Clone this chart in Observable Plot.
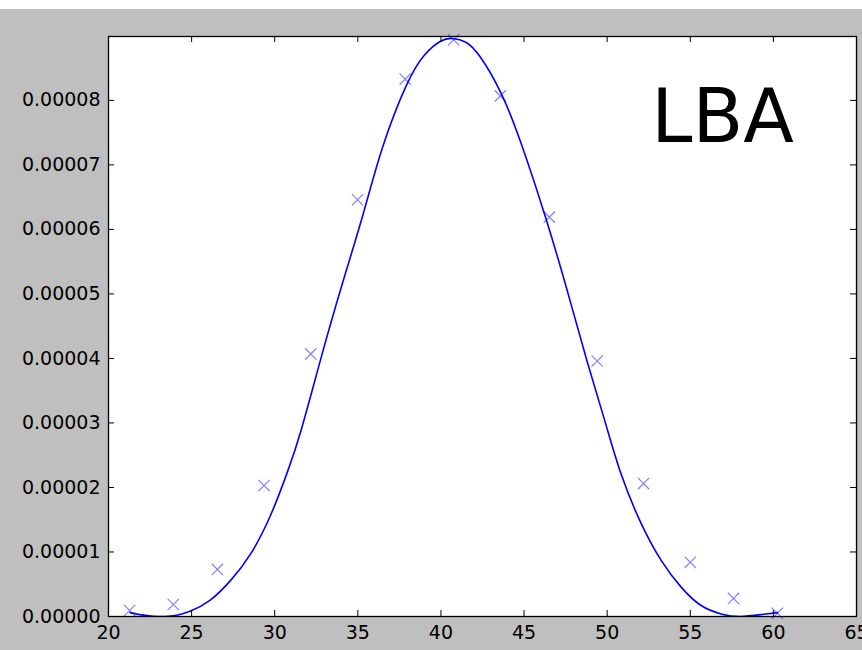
<!DOCTYPE html>
<html>
<head>
<meta charset="utf-8">
<script src="https://cdn.jsdelivr.net/npm/d3@7"></script>
<script src="https://cdn.jsdelivr.net/npm/@observablehq/plot@0.6"></script>
<style>
  html, body { margin: 0; padding: 0; background: #ffffff; }
  #chart svg { display: block; }
</style>
</head>
<body>
<div id="chart"></div>
<script>
// ---- data ----
const xTicks = [20, 25, 30, 35, 40, 45, 50, 55, 60, 65];
const yTicks = [0, 0.00001, 0.00002, 0.00003, 0.00004, 0.00005, 0.00006, 0.00007, 0.00008];

// measured samples (x markers)
const sampleX = [21.27, 23.9, 26.55, 29.36, 32.17, 34.98, 37.85, 40.76, 43.57, 46.52, 49.4, 52.19, 55.0, 57.6, 60.24];
const sampleY = [0.00000093, 0.00000186, 0.0000073, 0.0000203, 0.0000407, 0.0000646, 0.0000833, 0.0000894, 0.0000807, 0.0000619, 0.0000396, 0.0000206, 0.0000084, 0.0000028, 0.0000005];

// fitted curve
const curveX = [21.3, 22.0, 22.7, 23.4, 24.1, 24.9, 26.1, 27.35, 28.55, 29.75, 30.75, 31.6, 32.8, 34.0, 35.3, 36.5, 37.9, 39.0, 40.0, 40.7,
                41.5, 42.4, 43.6, 44.8, 46.3, 47.6, 48.8, 49.85, 50.85, 52.05, 53.25, 54.45, 55.65, 56.85, 58.0, 59.3, 60.25];
const curveY = [0.0000006, 0.00000025, 0.00000005, 0.0, 0.0000002, 0.0000008, 0.0000025, 0.0000056, 0.0000097, 0.0000157, 0.0000223, 0.000029, 0.0000402, 0.000051, 0.0000622, 0.0000728, 0.0000822, 0.000087, 0.0000892, 0.0000896,
                0.000089, 0.0000866, 0.0000812, 0.0000735, 0.0000618, 0.0000505, 0.0000395, 0.0000304, 0.000022, 0.0000144, 0.0000087, 0.00000455, 0.0000017, 0.0000004, 0.0, 0.0000003, 0.0000006];

const labelText = ["LBA"];
const labelPos = {x: 52.65, y: 0.0000772};

// ---- build ----
const W = 862, H = 650;
const mL = 108, mR = 6, mT = 36, mB = 34;
const innerW = W - mL - mR, innerH = H - mT - mB;
const tickLen = 6;

const samples = sampleX.map((x, i) => ({x, y: sampleY[i]}));
const curve = curveX.map((x, i) => ({x, y: curveY[i]}));

const chart = Plot.plot({
  width: W,
  height: H,
  marginLeft: mL,
  marginRight: mR,
  marginTop: mT,
  marginBottom: mB,
  style: {
    fontFamily: "'DejaVu Sans', sans-serif",
    fontSize: "19px",
    color: "#000",
    background: "linear-gradient(#ffffff 0 9px, #bfbfbf 9px)",
    overflow: "hidden"
  },
  x: {domain: [20, 65]},
  y: {domain: [0, 0.0000899]},
  marks: [
    Plot.frame({fill: "white"}),
    Plot.line(curve, {x: "x", y: "y", stroke: "#0000ff", strokeWidth: 1.6, curve: "natural", clip: true}),
    Plot.dot(samples, {x: "x", y: "y", symbol: "times", r: 5.2, stroke: "#0000ff", strokeOpacity: 0.5, strokeWidth: 1.2}),
    Plot.text(labelText, {x: () => labelPos.x, y: () => labelPos.y, text: d => d, textAnchor: "start", fontSize: 74, fill: "#000"}),
    // inward ticks on all four sides
    Plot.tickX(xTicks, {x: d => d, insetTop: innerH - tickLen, stroke: "#000", strokeWidth: 1}),
    Plot.tickX(xTicks, {x: d => d, insetBottom: innerH - tickLen, stroke: "#000", strokeWidth: 1}),
    Plot.tickY(yTicks, {y: d => d, insetRight: innerW - tickLen, stroke: "#000", strokeWidth: 1}),
    Plot.tickY(yTicks, {y: d => d, insetLeft: innerW - tickLen, stroke: "#000", strokeWidth: 1}),
    Plot.frame({stroke: "#000", strokeWidth: 1.3}),
    Plot.axisX(xTicks, {tickSize: 0, tickPadding: 9, fontSize: 19, label: null, tickFormat: d => String(d)}),
    Plot.axisY(yTicks, {tickSize: 0, tickPadding: 8, fontSize: 19, label: null, tickFormat: d3.format(".5f")})
  ]
});
document.getElementById("chart").appendChild(chart);
</script>
</body>
</html>
